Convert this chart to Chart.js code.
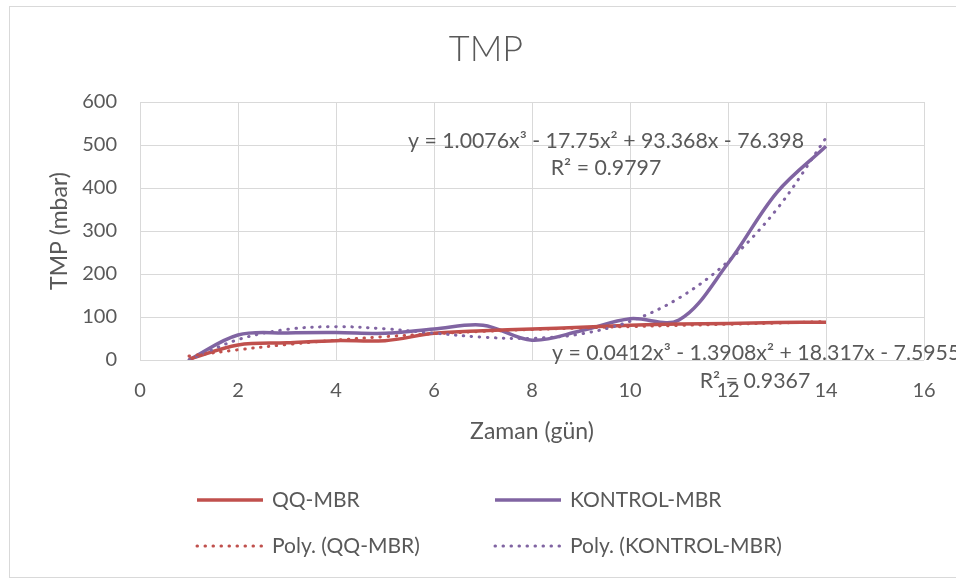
<!DOCTYPE html>
<html>
<head>
<meta charset="utf-8">
<script src="https://cdn.jsdelivr.net/npm/chart.js"></script>
<style>
  html, body { margin: 0; padding: 0; background: #fff; }
  #wrap { width: 956px; height: 580px; position: relative; }
</style>
</head>
<body>
<div id="wrap"><canvas id="grafica"></canvas></div>
<script>
// ---------------------------------------------------------------
// Datos (TMP en mbar por día)
// ---------------------------------------------------------------
const dias = [1, 2, 3, 4, 5, 6, 7, 8, 9, 10, 11, 12, 13, 14];
const qqMbr = [2, 35, 40, 45, 45, 62, 68, 72, 76, 81, 84, 85, 87, 88];
const kontrolMbr = [0, 58, 63, 64, 62, 72, 81, 46, 68, 96, 93, 225, 390, 497];

// líneas de tendencia (polinómicas), leídas punto a punto
const polyQq = [9.4, 23.8, 36, 46.1, 54.4, 61.1, 66.6, 71, 74.6, 77.7, 80.4, 83.1, 86, 89.3];
const polyKontrol = [0.2, 47.4, 71.2, 77.6, 72.6, 62.5, 53, 50.4, 60.7, 89.9, 144, 229.2, 351.3, 516.6];

const xTicks = [0, 2, 4, 6, 8, 10, 12, 14, 16];
const yTicks = [0, 100, 200, 300, 400, 500, 600];

const ecuacionKontrol = 'y = 1.0076x³ - 17.75x² + 93.368x - 76.398';
const r2Kontrol = 'R² = 0.9797';
const ecuacionQq = 'y = 0.0412x³ - 1.3908x² + 18.317x - 7.5955';
const r2Qq = 'R² = 0.9367';

const ROJO = '#c0504d';
const MORADO = '#8064a2';
const GRIS_TEXTO = '#595959';
const GRIS_REJILLA = '#d9d9d9';
const FUENTE = 'Lato, "Open Sans", sans-serif';

function pares(xs, ys) {
  return xs.map((x, i) => ({ x: x, y: ys[i] }));
}

// marco, título, ejes, ecuaciones y leyenda dibujados a mano
const decorPlugin = {
  id: 'decor',
  beforeDraw(chart) {
    const ctx = chart.ctx;
    ctx.save();
    ctx.fillStyle = '#fff';
    ctx.fillRect(0, 0, chart.width, chart.height);
    ctx.strokeStyle = GRIS_REJILLA;
    ctx.lineWidth = 1;
    ctx.strokeRect(9.5, 6.5, 960, 571);
    ctx.restore();
  },
  afterDraw(chart) {
    const ctx = chart.ctx;
    const area = chart.chartArea;
    ctx.save();
    ctx.fillStyle = GRIS_TEXTO;
    ctx.textBaseline = 'middle';
    ctx.textAlign = 'center';

    // título
    ctx.font = '300 36px ' + FUENTE;
    ctx.fillText('TMP', 486, 49);

    // títulos de ejes
    ctx.font = '23px ' + FUENTE;
    ctx.fillText('Zaman (gün)', (area.left + area.right) / 2, 432);
    ctx.save();
    ctx.translate(60, (area.top + area.bottom) / 2);
    ctx.rotate(-Math.PI / 2);
    ctx.fillText('TMP (mbar)', 0, 0);
    ctx.restore();

    // ecuaciones de tendencia
    ctx.font = '21.3px ' + FUENTE;
    ctx.fillText(ecuacionKontrol, 606, 141);
    ctx.fillText(r2Kontrol, 606, 168);
    ctx.textAlign = 'left';
    ctx.fillText(ecuacionQq, 552, 353);
    ctx.textAlign = 'center';
    ctx.fillText(r2Qq, 755, 381);

    // leyenda de 2 columnas
    ctx.font = '21px ' + FUENTE;
    const items = chart.data.datasets;
    const orden = [2, 3, 0, 1];
    const cols = [197, 495];
    const filas = [500, 546];
    orden.forEach((idx, k) => {
      const d = items[idx];
      const x = cols[k % 2];
      const y = filas[Math.floor(k / 2)];
      ctx.beginPath();
      ctx.strokeStyle = d.borderColor;
      ctx.lineWidth = d.borderWidth;
      ctx.lineCap = d.borderDash.length ? 'round' : 'butt';
      ctx.setLineDash(d.borderDash);
      ctx.moveTo(x, y);
      ctx.lineTo(x + 66, y);
      ctx.stroke();
      ctx.setLineDash([]);
      ctx.textAlign = 'left';
      ctx.fillStyle = GRIS_TEXTO;
      ctx.fillText(d.label, x + 75, y);
    });
    ctx.restore();
  }
};

new Chart(document.getElementById('grafica'), {
  type: 'scatter',
  data: {
    datasets: [
      {
        label: 'Poly. (QQ-MBR)',
        data: pares(dias, polyQq),
        showLine: true,
        borderColor: ROJO,
        borderWidth: 3,
        borderDash: [0.5, 7.5],
        borderCapStyle: 'round',
        tension: 0.35,
        pointRadius: 0,
        order: 0
      },
      {
        label: 'Poly. (KONTROL-MBR)',
        data: pares(dias, polyKontrol),
        showLine: true,
        borderColor: MORADO,
        borderWidth: 3,
        borderDash: [0.5, 7.5],
        borderCapStyle: 'round',
        tension: 0.35,
        pointRadius: 0,
        order: 0
      },
      {
        label: 'QQ-MBR',
        data: pares(dias, qqMbr),
        showLine: true,
        borderColor: ROJO,
        borderWidth: 3.5,
        borderDash: [],
        tension: 0.35,
        pointRadius: 0,
        order: 1
      },
      {
        label: 'KONTROL-MBR',
        data: pares(dias, kontrolMbr),
        showLine: true,
        borderColor: MORADO,
        borderWidth: 3.5,
        borderDash: [],
        tension: 0.35,
        pointRadius: 0,
        order: 1
      }
    ]
  },
  options: {
    responsive: true,
    maintainAspectRatio: false,
    animation: false,
    layout: { padding: { top: 102, right: 32, bottom: 0, left: 0 } },
    plugins: {
      legend: { display: false },
      title: { display: false },
      tooltip: { enabled: false }
    },
    scales: {
      x: {
        type: 'linear',
        min: xTicks[0],
        max: xTicks[xTicks.length - 1],
        afterBuildTicks: s => { s.ticks = xTicks.map(v => ({ value: v })); },
        afterFit: s => { s.height = 220; },
        grid: { color: GRIS_REJILLA, lineWidth: 1, drawTicks: false },
        border: { display: false },
        ticks: { color: GRIS_TEXTO, font: { family: FUENTE, size: 20 }, padding: 19, maxRotation: 0 }
      },
      y: {
        type: 'linear',
        min: yTicks[0],
        max: yTicks[yTicks.length - 1],
        afterBuildTicks: s => { s.ticks = yTicks.map(v => ({ value: v })); },
        afterFit: s => { s.width = 140; },
        grid: { color: GRIS_REJILLA, lineWidth: 1, drawTicks: false },
        border: { display: false },
        ticks: { color: GRIS_TEXTO, font: { family: FUENTE, size: 20 }, padding: 23 }
      }
    }
  },
  plugins: [decorPlugin]
});
</script>
</body>
</html>
